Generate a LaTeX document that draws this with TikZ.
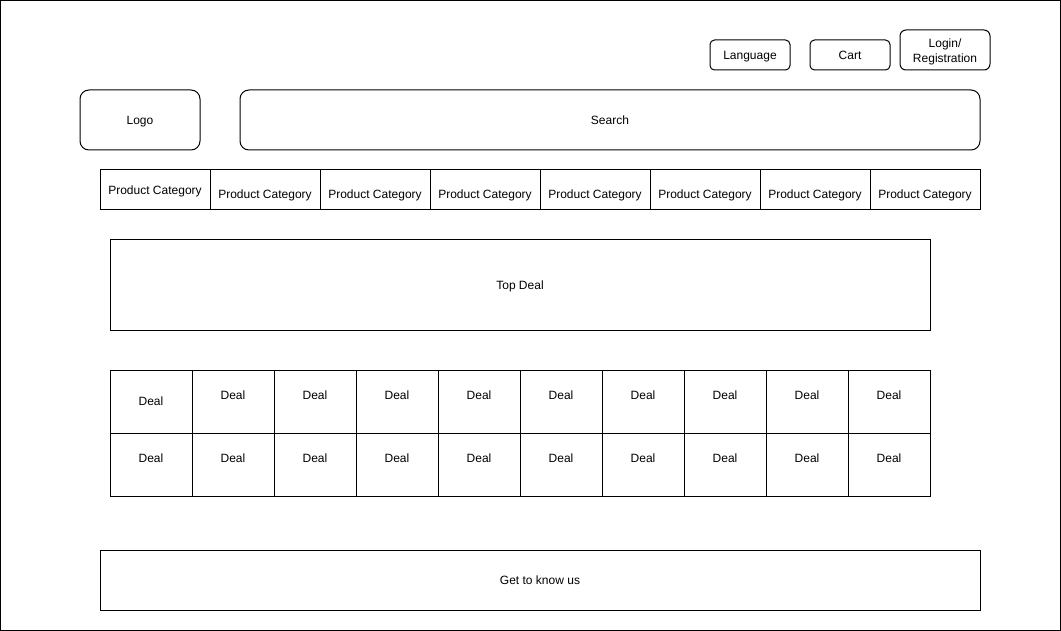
\documentclass[tikz,border=0pt]{standalone}
\usepackage{fontspec}
\setmainfont{Liberation Sans}
\usetikzlibrary{positioning}
\tikzset{
  box/.style={rectangle, draw=black, line width=0.75pt, inner sep=0pt, outer sep=0pt, text centered,
    text height=8.1pt, text depth=1.9pt, font=\fontsize{9}{11.25}\selectfont},
  button/.style={box, rounded corners=3.4pt},
  bigbutton/.style={box, rounded corners=6.75pt},
  catbox/.style={box, minimum width=82.5pt, minimum height=30pt},
  dealbox/.style={box, minimum width=61.5pt, minimum height=47.6pt}
}
\newcommand{\shifttext}[2]{\raisebox{#1}[\height][\depth]{#2}}

\begin{document}
\begin{tikzpicture}[x=0.75pt, y=-0.75pt]
\useasboundingbox (0,0) rectangle (1061,631);
\draw[line width=0.75pt] (0.5,0.5) rectangle (1060.5,630.5);

% header
\node (lang) [button, minimum width=60pt, minimum height=22.5pt] at (750,55) {Language};
\node (cart) [button, minimum width=60pt, minimum height=22.5pt] at (850,55) {Cart};
\node (login) [button, align=center, text height=, text depth=, minimum width=67.5pt, minimum height=30pt, rounded corners=4.5pt] at (945,50) {\shifttext{-1.2pt}{Login/}\\\shifttext{-1.2pt}{Registration}};

\node (logo) [bigbutton, minimum width=90pt, minimum height=45pt] at (140,120) {Logo};
\node (search) [bigbutton, minimum width=555pt, minimum height=45pt] at (610,120) {Search};

% product categories
\node (cat0) [catbox] at (155,190) {Product Category};
\foreach \i in {1,...,7}
  \node (cat\i) [catbox] at (155+110*\i,190) {\shifttext{-3pt}{Product Category}};

\node (top) [box, minimum width=615pt, minimum height=67.5pt] at (520,285) {Top Deal};

% deals
\node (deal0) [dealbox] at (151,401.75) {Deal};
\foreach \j in {1,...,9}
  \node (deal\j) [dealbox] at (151+82*\j,401.75) {\shifttext{4.5pt}{Deal}};
\foreach \j in {0,...,9}
  \node (dealb\j) [dealbox] at (151+82*\j,465.25) {\shifttext{4.9pt}{Deal}};

\node (about) [box, minimum width=660pt, minimum height=45pt] at (540,580) {Get to know us};

\end{tikzpicture}
\end{document}
